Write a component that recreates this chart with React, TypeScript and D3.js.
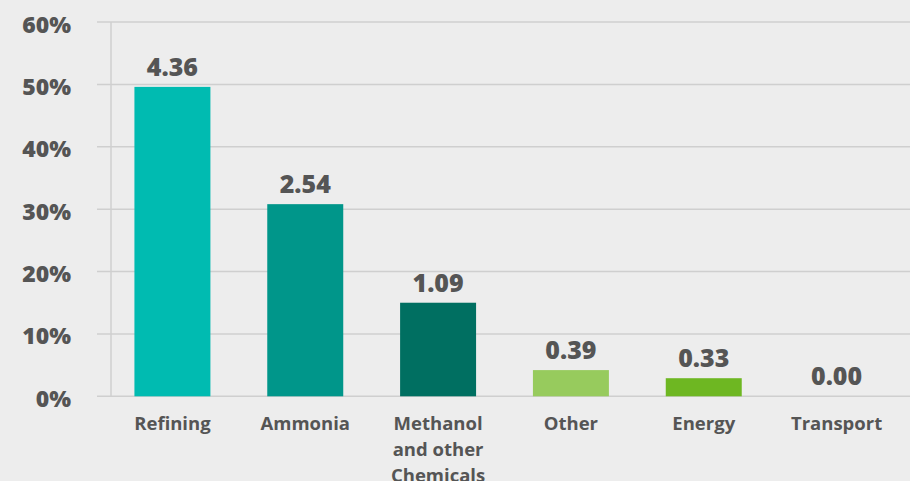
import React from "react";
import * as d3 from "d3";

const categories = ["Refining", "Ammonia", "Methanol\nand other\nChemicals", "Other", "Energy", "Transport"];
const shares = [49.6, 30.8, 15.0, 4.2, 2.9, 0];
const valueLabels = ["4.36", "2.54", "1.09", "0.39", "0.33", "0.00"];
const colors = ["#00BBB1", "#00968A", "#006F61", "#97CB5D", "#6EB722", "#6EB722"];
const yTicks = [0, 10, 20, 30, 40, 50, 60];

const W = 910;
const H = 481;
const FONT = "'Open Sans', Lato, sans-serif";
const TEXT = "#555555";

export default function App() {
  const y = d3.scaleLinear().domain([0, 60]).range([396.3, 22]);
  const x = d3
    .scaleBand<string>()
    .domain(categories)
    .range([106, 903])
    .paddingInner(0.428)
    .paddingOuter(0.214);

  return (
    <svg
      width={W}
      height={H}
      style={{ position: "fixed", left: 0, top: 0, background: "#EDEDED" }}
    >
      <rect x={0} y={0} width={W} height={H} fill="#EDEDED" />
      {yTicks.map((t) => (
        <g key={t}>
          <line x1={97} x2={W} y1={y(t)} y2={y(t)} stroke="#CFCFCF" strokeWidth={1.5} />
          <text
            x={71}
            y={y(t) + 10.5}
            textAnchor="end"
            fontFamily={FONT}
            fontWeight={800}
            fontSize={23}
            fill={TEXT}
          >
            {t}%
          </text>
        </g>
      ))}
      <line x1={111} x2={111} y1={y(60)} y2={y(0)} stroke="#CFCFCF" strokeWidth={1.5} />
      {categories.map((c, i) => {
        const bx = x(c)!;
        const bw = x.bandwidth();
        const cx = bx + bw / 2;
        const lines = c.split("\n");
        return (
          <g key={c}>
            {shares[i] > 0 && (
              <rect x={bx} y={y(shares[i])} width={bw} height={y(0) - y(shares[i])} fill={colors[i]} />
            )}
            <text
              x={cx}
              y={y(shares[i]) - 11}
              textAnchor="middle"
              fontFamily={FONT}
              fontWeight={800}
              fontSize={25}
              fill={TEXT}
            >
              {valueLabels[i]}
            </text>
            <text
              textAnchor="middle"
              fontFamily={FONT}
              fontWeight={700}
              fontSize={18.5}
              fill={TEXT}
            >
              {lines.map((l, j) => (
                <tspan key={j} x={cx} y={430 + j * 26}>
                  {l}
                </tspan>
              ))}
            </text>
          </g>
        );
      })}
    </svg>
  );
}
